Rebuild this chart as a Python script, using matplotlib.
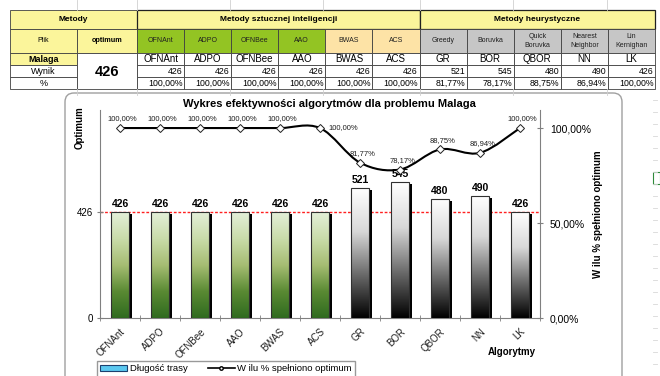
import matplotlib
matplotlib.use('Agg')
import matplotlib.pyplot as plt
import numpy as np
from matplotlib.patches import Rectangle, FancyBboxPatch, Patch
from matplotlib.path import Path
from matplotlib.lines import Line2D
from matplotlib.colors import LinearSegmentedColormap
import matplotlib.patches as mpatches

plt.rcParams['font.family'] = ['Liberation Sans', 'DejaVu Sans']

# data
algorithms = ['OFNAnt', 'ADPO', 'OFNBee', 'AAO', 'BWAS', 'ACS', 'GR', 'BOR', 'QBOR', 'NN', 'LK']
method_names = ['OFNAnt', 'ADPO', 'OFNBee', 'AAO', 'BWAS', 'ACS', 'Greedy', 'Boruvka',
                'Quick\nBoruvka', 'Nearest\nNeighbor', 'Lin\nKernighan']
lengths = [426, 426, 426, 426, 426, 426, 521, 545, 480, 490, 426]
percent = [100.00, 100.00, 100.00, 100.00, 100.00, 100.00, 81.77, 78.17, 88.75, 86.94, 100.00]
optimum = 426
problem = 'Malaga'
groups = ['Metody sztucznej inteligencji', 'Metody heurystyczne']
group_kind = ['ai', 'ai', 'ai', 'ai', 'ai2', 'ai2', 'heur', 'heur', 'heur', 'heur', 'heur']


def pct(v):
    return f'{v:.2f}%'.replace('.', ',')


YELLOW = '#fbf59b'
HEAD_COLORS = {'ai': '#93c423', 'ai2': '#fde3a6', 'heur': '#c6c6c6'}
GRID = '#808080'

fig = plt.figure(figsize=(6.6, 3.76), dpi=100)

# background layer in pixel coordinates (table, chart frame)
bg = fig.add_axes([0, 0, 1, 1])
bg.set_xlim(0, 660)
bg.set_ylim(376, 0)
bg.axis('off')

# faint spreadsheet grid behind everything
for x in [77, 137, 230, 323, 420, 513, 607]:
    bg.plot([x, x], [0, 10], color='#d0d0d0', lw=0.6)
    bg.plot([x, x], [89, 95], color='#d0d0d0', lw=0.6)
for y in range(100, 376, 12):
    bg.plot([653, 657], [y, y], color='#d8d8d8', lw=0.6)
bg.add_patch(Rectangle((653, 172), 7, 12, fill=False, edgecolor='#2e8b3a', lw=0.8))

col_x = [10, 77] + list(np.linspace(137, 655, 12))
row_y = [10, 29, 53, 65, 77, 89]


def cell(c0, c1, r0, r1, color='white', lw=0.6, ec='#404040'):
    x0, x1 = col_x[c0], col_x[c1]
    y0, y1 = row_y[r0], row_y[r1]
    bg.add_patch(Rectangle((x0, y0), x1 - x0, y1 - y0, facecolor=color,
                           edgecolor=ec, lw=lw))
    return (x0 + x1) / 2, (y0 + y1) / 2, x1


# header row 1
cx, cy, _ = cell(0, 2, 0, 1, YELLOW)
bg.text(cx, cy, 'Metody', ha='center', va='center', fontsize=6, weight='bold')
cx, cy, _ = cell(2, 8, 0, 1, YELLOW, lw=0.9, ec='#202020')
bg.text(cx, cy, groups[0], ha='center', va='center', fontsize=6, weight='bold')
cx, cy, _ = cell(8, 13, 0, 1, YELLOW, lw=0.9, ec='#202020')
bg.text(cx, cy, groups[1], ha='center', va='center', fontsize=6, weight='bold')

# header row 2
cx, cy, _ = cell(0, 1, 1, 2, YELLOW)
bg.text(cx, cy, 'Plik', ha='center', va='center', fontsize=5)
cx, cy, _ = cell(1, 2, 1, 2, YELLOW)
bg.text(cx, cy, 'optimum', ha='center', va='center', fontsize=5.2, weight='bold')
for i, (name, kind) in enumerate(zip(method_names, group_kind)):
    cx, cy, _ = cell(i + 2, i + 3, 1, 2, HEAD_COLORS[kind])
    bg.text(cx, cy, name, ha='center', va='center', fontsize=5,
            linespacing=1.3, color='#202020')

# data rows
cx, cy, _ = cell(0, 1, 2, 3, YELLOW)
bg.text(cx, cy, problem, ha='center', va='center', fontsize=6.5, weight='bold')
cx, cy, _ = cell(0, 1, 3, 4)
bg.text(cx, cy, 'Wynik', ha='center', va='center', fontsize=6.5)
cx, cy, _ = cell(0, 1, 4, 5)
bg.text(cx, cy, '%', ha='center', va='center', fontsize=6.5)
cx, cy, _ = cell(1, 2, 2, 5)
bg.text(cx, cy + 1, str(optimum), ha='center', va='center', fontsize=10.5, weight='bold')
for i in range(len(algorithms)):
    cx, cy, x1 = cell(i + 2, i + 3, 2, 3)
    bg.text(cx, cy + 0.5, algorithms[i], ha='center', va='center', fontsize=7)
    cx, cy, x1 = cell(i + 2, i + 3, 3, 4)
    bg.text(x1 - 1.5, cy + 0.5, str(lengths[i]), ha='right', va='center', fontsize=6.3)
    cx, cy, x1 = cell(i + 2, i + 3, 4, 5)
    bg.text(x1 - 1.5, cy + 0.5, pct(percent[i]), ha='right', va='center', fontsize=6.3)

# chart frame
bg.add_patch(FancyBboxPatch((65, 93), 557, 292, boxstyle='round,pad=0,rounding_size=9',
                            facecolor='white', edgecolor='#a0a0a0', lw=1.0))

# chart
ax = fig.add_axes([100 / 660, (376 - 318) / 376, 440 / 660, 208 / 376])
ax.patch.set_alpha(0)
x = np.arange(len(algorithms))
width = 0.43

green = LinearSegmentedColormap.from_list('g', ['#2f6b1f', '#5a8a33', '#a6bd73', '#c9dcaa', '#e4efd8'])
grey = LinearSegmentedColormap.from_list('k', ['#000000', '#6a6a6a', '#d8d8d8', '#ffffff'])
grad = np.linspace(0, 1, 256).reshape(-1, 1)

ax.axhline(optimum, color='#ff2020', ls=(0, (2, 1.3)), lw=1.0, zorder=1)
for xi, h, kind in zip(x, lengths, group_kind):
    x0 = xi - width / 2
    # shadow
    ax.add_patch(Rectangle((x0 + 0.08, 0), width, h - 8, facecolor='black', edgecolor='none', zorder=2))
    cmap = grey if kind == 'heur' else green
    ax.imshow(grad, extent=[x0, x0 + width, 0, h], origin='lower', aspect='auto',
              cmap=cmap, zorder=3)
    ax.add_patch(Rectangle((x0, 0), width, h, facecolor='none', edgecolor='#303030',
                           lw=0.8, zorder=4))
    ax.text(xi, h + 12, str(h), ha='center', va='bottom', fontsize=7.5, weight='bold', zorder=5)

ax.set_xlim(-0.5, len(algorithms) - 0.5)
ax.set_ylim(0, 836)
ax.set_yticks([0, optimum])
ax.set_yticklabels(['0', str(optimum)], fontsize=7)
ax.set_xticks(x)
ax.set_xticklabels(algorithms, rotation=45, ha='right', rotation_mode='anchor',
                   fontsize=7, color='#202020')
ax.set_xticks(np.arange(-0.5, len(algorithms)), minor=True)
ax.tick_params(axis='x', which='major', length=0, pad=6)
ax.tick_params(axis='x', which='minor', length=4, direction='inout', color=GRID)
ax.tick_params(axis='y', length=4, direction='inout', color=GRID, pad=3)
for s in ['top', 'right']:
    ax.spines[s].set_visible(False)
for s in ['left', 'bottom']:
    ax.spines[s].set_color(GRID)
    ax.spines[s].set_linewidth(0.8)

ax2 = ax.twinx()
ax2.set_ylim(0, 109.5)
ax2.set_yticks([0, 50, 100])
ax2.set_yticklabels([pct(v) for v in [0, 50, 100]], fontsize=7.5)
ax2.tick_params(axis='y', length=4, direction='inout', color=GRID, pad=5)
for s in ['top', 'left', 'bottom']:
    ax2.spines[s].set_visible(False)
ax2.spines['right'].set_color(GRID)
ax2.spines['right'].set_linewidth(0.8)

# smoothed line (Excel style) as Bezier path through the points
pts = np.column_stack([x, percent]).astype(float)
verts = [pts[0]]
codes = [Path.MOVETO]
n = len(pts)
for i in range(n - 1):
    p0 = pts[max(i - 1, 0)]
    p1 = pts[i]
    p2 = pts[i + 1]
    p3 = pts[min(i + 2, n - 1)]
    verts += [p1 + (p2 - p0) / 6, p2 - (p3 - p1) / 6, p2]
    codes += [Path.CURVE4] * 3
ax2.add_patch(mpatches.PathPatch(Path(verts, codes), facecolor='none', edgecolor='black',
                                 lw=1.5, zorder=5))
ax2.plot(x, percent, ls='none', marker='D', ms=4, mfc='white', mec='#202020', mew=0.7, zorder=6)
for i, (xi, p) in enumerate(zip(x, percent)):
    if i == 5:
        ax2.annotate(pct(p), (xi, p), xytext=(6, 0), textcoords='offset points',
                     ha='left', va='center', fontsize=5.5, color='#202020')
    else:
        ax2.annotate(pct(p), (xi, p), xytext=(2, 4), textcoords='offset points',
                     ha='center', va='bottom', fontsize=5.5, color='#202020')

# titles and labels
fig.text(329 / 660, 1 - 104 / 376, 'Wykres efektywności algorytmów dla problemu Malaga',
         ha='center', va='center', fontsize=8, weight='bold')
fig.text(80 / 660, 1 - 128 / 376, 'Optimum', rotation=90, ha='center', va='center',
         fontsize=7, weight='bold')
fig.text(598 / 660, 1 - 214 / 376, 'W ilu % spełniono optimum', rotation=90, ha='center',
         va='center', fontsize=7, weight='bold')
fig.text(512 / 660, 1 - 352 / 376, 'Algorytmy', ha='center', va='center', fontsize=7, weight='bold')

handles = [Patch(facecolor='#5bc8f0', edgecolor='#1d3f6e', lw=0.8),
           Line2D([0], [0], color='black', lw=1.2, marker='o', ms=2.5, mfc='white', mec='black')]
fig.legend(handles, ['Długość trasy', 'W ilu % spełniono optimum'], ncol=2,
           loc='upper left', bbox_to_anchor=(97 / 660, 1 - 361 / 376), fontsize=6.8,
           frameon=True, fancybox=False, edgecolor='#808080', handlelength=2.8,
           handleheight=0.6, columnspacing=2.2, borderpad=0.35, handletextpad=0.3,
           borderaxespad=0)

fig.savefig('out.png', dpi=100)
